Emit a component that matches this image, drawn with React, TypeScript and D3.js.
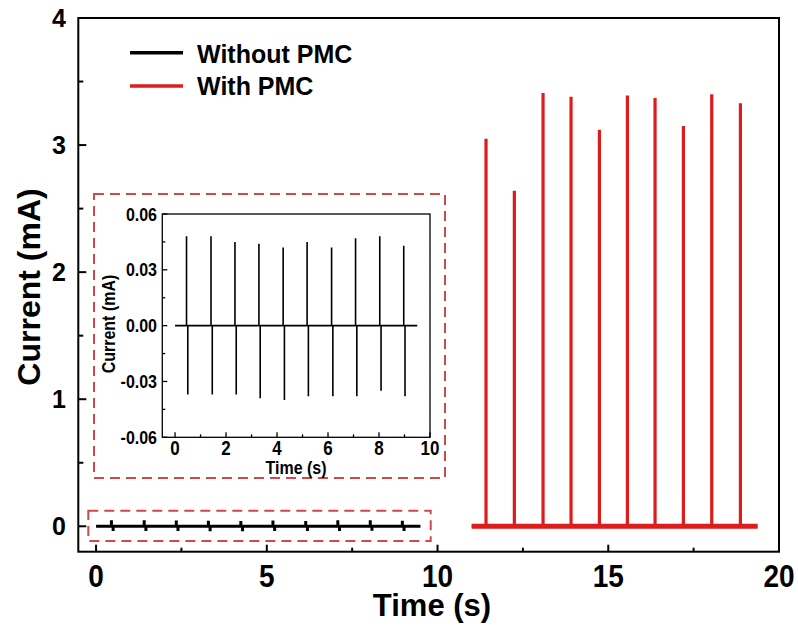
import React from 'react';
import * as d3 from 'd3';

const W = 798;
const H = 639;

// ---- data ----
const withoutTimes = [0.45, 1.41, 2.35, 3.29, 4.24, 5.18, 6.14, 7.08, 8.03, 8.97];
const withoutPeaks = [0.048, 0.048, 0.045, 0.044, 0.042, 0.045, 0.042, 0.047, 0.048, 0.043];
const withoutTroughs = [-0.037, -0.037, -0.037, -0.039, -0.040, -0.038, -0.038, -0.038, -0.035, -0.038];
const withoutRange = [0, 9.5];

const withTimes = [11.42, 12.25, 13.09, 13.91, 14.74, 15.56, 16.37, 17.2, 18.03, 18.87];
const withPeaks = [3.05, 2.64, 3.41, 3.38, 3.12, 3.39, 3.37, 3.15, 3.4, 3.33];
const withRange = [11.0, 19.37];

const mainXTicks = [0, 5, 10, 15, 20];
const mainXMinor = [2.5, 7.5, 12.5, 17.5];
const mainYTicks = [0, 1, 2, 3, 4];
const mainYMinor = [0.5, 1.5, 2.5, 3.5];
const insetXTicks = [0, 2, 4, 6, 8, 10];
const insetXMinor = [1, 3, 5, 7, 9];
const insetYTicks = [-0.06, -0.03, 0, 0.03, 0.06];
const insetYMinor = [-0.045, -0.015, 0.015, 0.045];

const legendItems = [
  { label: 'Without PMC', color: '#000000' },
  { label: 'With PMC', color: '#dd1c1c' },
];

const RED = '#dd1c1c';
const DASH = '#d04848';
const FONT = "Arial, 'Liberation Sans', sans-serif";

function pulses(times: number[], peaks: number[], troughs: number[] | null, range: number[]) {
  const pts: [number, number][] = [[range[0], 0]];
  times.forEach((t, i) => {
    pts.push([t, 0], [t, peaks[i]], [t, 0]);
    if (troughs) {
      pts.push([t + 0.05, 0], [t + 0.05, troughs[i]], [t + 0.05, 0]);
    }
  });
  pts.push([range[1], 0]);
  return pts;
}

function Txt({ x, y, size, anchor = 'middle', sy = 1, rotate = 0, children }: any) {
  return (
    <text
      transform={`translate(${x},${y}) rotate(${rotate}) scale(1,${sy})`}
      fontSize={size}
      fontWeight="bold"
      fontFamily={FONT}
      textAnchor={anchor}
      fill="#000"
    >
      {children}
    </text>
  );
}

export default function App() {
  // main scales
  const x = d3.scaleLinear().domain([-0.52, 20]).range([78.3, 779]);
  const y = d3.scaleLinear().domain([-0.2, 4]).range([551.7, 18]);
  // inset scales
  const ix = d3.scaleLinear().domain([-0.5, 10]).range([162.3, 430]);
  const iy = d3.scaleLinear().domain([-0.06, 0.06]).range([437.3, 214]);

  const mainLine = d3.line<[number, number]>().x((d) => x(d[0])).y((d) => y(d[1]));
  const insetLine = d3.line<[number, number]>().x((d) => ix(d[0])).y((d) => iy(d[1]));

  const blackPts = pulses(withoutTimes, withoutPeaks, withoutTroughs, withoutRange);
  const redPts = pulses(withTimes, withPeaks, null, withRange);

  const [x0, x1] = x.range();
  const [y0, y1] = y.range();
  const [ix0, ix1] = ix.range();
  const [iy0, iy1] = iy.range();

  return (
    <svg width={W} height={H} style={{ position: 'absolute', left: 0, top: 0, background: '#fff' }}>
      <rect x={0} y={0} width={W} height={H} fill="#fff" />

      {/* main data */}
      <path d={mainLine(blackPts) || ''} fill="none" stroke="#000" strokeWidth={3} strokeLinejoin="bevel" />
      <line x1={x(withRange[0])} x2={x(withRange[1])} y1={y(0)} y2={y(0)} stroke={RED} strokeWidth={5} />
      <path d={mainLine(redPts) || ''} fill="none" stroke={RED} strokeWidth={3.2} strokeLinejoin="bevel" />

      {/* main frame */}
      <rect x={x0} y={y1} width={x1 - x0} height={y0 - y1} fill="none" stroke="#000" strokeWidth={2} />
      {mainXTicks.map((t) => (
        <g key={'mx' + t}>
          <line x1={x(t)} x2={x(t)} y1={y0} y2={y0 - 7} stroke="#000" strokeWidth={2} />
          <Txt x={x(t)} y={587} size={28} sy={1.12}>{t}</Txt>
        </g>
      ))}
      {mainXMinor.map((t) => (
        <line key={'mxm' + t} x1={x(t)} x2={x(t)} y1={y0} y2={y0 - 4} stroke="#000" strokeWidth={2} />
      ))}
      {mainYTicks.map((t) => (
        <g key={'my' + t}>
          <line x1={x0} x2={x0 + 8} y1={y(t)} y2={y(t)} stroke="#000" strokeWidth={2} />
          <Txt x={66} y={y(t) + 8.5} size={25} anchor="end">{t}</Txt>
        </g>
      ))}
      {mainYMinor.map((t) => (
        <line key={'mym' + t} x1={x0} x2={x0 + 5} y1={y(t)} y2={y(t)} stroke="#000" strokeWidth={2} />
      ))}
      <Txt x={432} y={616} size={31}>Time (s)</Txt>
      <Txt x={40} y={287} size={32} rotate={-90}>Current (mA)</Txt>

      {/* legend */}
      {legendItems.map((d, i) => (
        <g key={d.label}>
          <line x1={130} x2={183} y1={52.7 + i * 33.3} y2={52.7 + i * 33.3} stroke={d.color} strokeWidth={3.5} />
          <Txt x={197} y={62.7 + i * 32.3} size={25} anchor="start">{d.label}</Txt>
        </g>
      ))}

      {/* dashed highlight boxes */}
      <rect x={88.3} y={510.7} width={430.7 - 88.3} height={541 - 510.7} fill="none" stroke={DASH} strokeWidth={2} strokeDasharray="10,6" />
      <rect x={94} y={194} width={445 - 94} height={478 - 194} fill="none" stroke={DASH} strokeWidth={2} strokeDasharray="10,6" />

      {/* inset data */}
      <path d={insetLine(blackPts) || ''} fill="none" stroke="#000" strokeWidth={1.6} strokeLinejoin="bevel" />

      {/* inset frame */}
      <rect x={ix0} y={iy1} width={ix1 - ix0} height={iy0 - iy1} fill="none" stroke="#000" strokeWidth={1.3} />
      {insetXTicks.map((t) => (
        <g key={'ix' + t}>
          <line x1={ix(t)} x2={ix(t)} y1={iy0} y2={iy0 - 5} stroke="#000" strokeWidth={1.3} />
          <Txt x={ix(t)} y={455} size={17} sy={1.15}>{t}</Txt>
        </g>
      ))}
      {insetXMinor.map((t) => (
        <line key={'ixm' + t} x1={ix(t)} x2={ix(t)} y1={iy0} y2={iy0 - 3} stroke="#000" strokeWidth={1.3} />
      ))}
      {insetYTicks.map((t) => (
        <g key={'iy' + t}>
          <line x1={ix0} x2={ix0 + 5} y1={iy(t)} y2={iy(t)} stroke="#000" strokeWidth={1.3} />
          <Txt x={157} y={iy(t) + 6.5} size={16} anchor="end" sy={1.2}>{t.toFixed(2)}</Txt>
        </g>
      ))}
      {insetYMinor.map((t) => (
        <line key={'iym' + t} x1={ix0} x2={ix0 + 3} y1={iy(t)} y2={iy(t)} stroke="#000" strokeWidth={1.3} />
      ))}
      <Txt x={296} y={474} size={16} sy={1.15}>Time (s)</Txt>
      <Txt x={115} y={324} size={16} rotate={-90} sy={1.1}>Current (mA)</Txt>
    </svg>
  );
}
